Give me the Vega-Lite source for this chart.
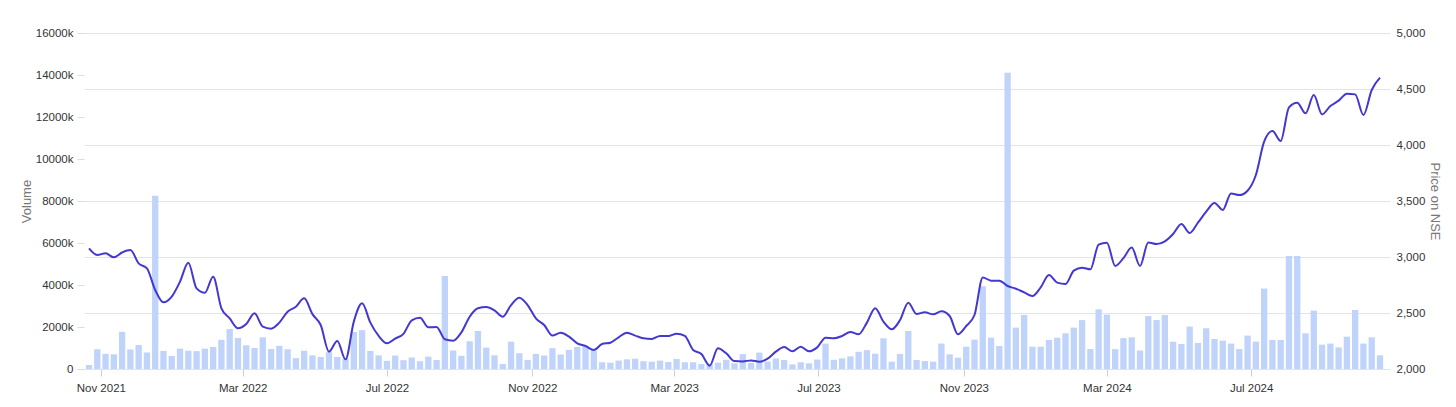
{
  "$schema": "https://vega.github.io/schema/vega-lite/v6.json",
  "width": 1301,
  "height": 336,
  "autosize": {"type": "none"},
  "padding": {"left": 84, "top": 33, "right": 71, "bottom": 38},
  "background": "white",
  "config": {
    "view": {"stroke": null},
    "font": "Liberation Sans",
    "axis": {"labelFont": "Liberation Sans", "titleFont": "Liberation Sans"}
  },
  "data": {
    "values": [
      {"date": "2021-10-22", "volume": 190000, "price": 3077},
      {"date": "2021-10-29", "volume": 940000, "price": 3018},
      {"date": "2021-11-05", "volume": 720000, "price": 3033},
      {"date": "2021-11-12", "volume": 700000, "price": 2997},
      {"date": "2021-11-19", "volume": 1770000, "price": 3040},
      {"date": "2021-11-26", "volume": 930000, "price": 3062},
      {"date": "2021-12-03", "volume": 1140000, "price": 2943},
      {"date": "2021-12-10", "volume": 780000, "price": 2899},
      {"date": "2021-12-17", "volume": 8250000, "price": 2705},
      {"date": "2021-12-24", "volume": 860000, "price": 2595},
      {"date": "2021-12-31", "volume": 620000, "price": 2646},
      {"date": "2022-01-07", "volume": 970000, "price": 2780},
      {"date": "2022-01-14", "volume": 870000, "price": 2949},
      {"date": "2022-01-21", "volume": 850000, "price": 2720},
      {"date": "2022-01-28", "volume": 970000, "price": 2681},
      {"date": "2022-02-04", "volume": 1050000, "price": 2824},
      {"date": "2022-02-11", "volume": 1390000, "price": 2542},
      {"date": "2022-02-18", "volume": 1900000, "price": 2452},
      {"date": "2022-02-25", "volume": 1480000, "price": 2363},
      {"date": "2022-03-04", "volume": 1130000, "price": 2402},
      {"date": "2022-03-11", "volume": 1000000, "price": 2497},
      {"date": "2022-03-18", "volume": 1510000, "price": 2378},
      {"date": "2022-03-25", "volume": 950000, "price": 2360},
      {"date": "2022-04-01", "volume": 1100000, "price": 2414},
      {"date": "2022-04-08", "volume": 940000, "price": 2512},
      {"date": "2022-04-15", "volume": 520000, "price": 2556},
      {"date": "2022-04-22", "volume": 870000, "price": 2631},
      {"date": "2022-04-29", "volume": 650000, "price": 2490},
      {"date": "2022-05-06", "volume": 570000, "price": 2393},
      {"date": "2022-05-13", "volume": 800000, "price": 2155},
      {"date": "2022-05-20", "volume": 570000, "price": 2250},
      {"date": "2022-05-27", "volume": 500000, "price": 2086},
      {"date": "2022-06-03", "volume": 1760000, "price": 2423},
      {"date": "2022-06-10", "volume": 1850000, "price": 2586},
      {"date": "2022-06-17", "volume": 860000, "price": 2414},
      {"date": "2022-06-24", "volume": 650000, "price": 2295},
      {"date": "2022-07-01", "volume": 390000, "price": 2229},
      {"date": "2022-07-08", "volume": 640000, "price": 2272},
      {"date": "2022-07-15", "volume": 420000, "price": 2314},
      {"date": "2022-07-22", "volume": 550000, "price": 2435},
      {"date": "2022-07-29", "volume": 370000, "price": 2458},
      {"date": "2022-08-05", "volume": 590000, "price": 2372},
      {"date": "2022-08-12", "volume": 430000, "price": 2375},
      {"date": "2022-08-19", "volume": 4430000, "price": 2265},
      {"date": "2022-08-26", "volume": 880000, "price": 2253},
      {"date": "2022-09-02", "volume": 630000, "price": 2327},
      {"date": "2022-09-09", "volume": 1320000, "price": 2467},
      {"date": "2022-09-16", "volume": 1810000, "price": 2542},
      {"date": "2022-09-23", "volume": 1020000, "price": 2554},
      {"date": "2022-09-30", "volume": 650000, "price": 2524},
      {"date": "2022-10-07", "volume": 240000, "price": 2467},
      {"date": "2022-10-14", "volume": 1300000, "price": 2571},
      {"date": "2022-10-21", "volume": 750000, "price": 2637},
      {"date": "2022-10-28", "volume": 430000, "price": 2571},
      {"date": "2022-11-04", "volume": 720000, "price": 2452},
      {"date": "2022-11-11", "volume": 640000, "price": 2393},
      {"date": "2022-11-18", "volume": 990000, "price": 2298},
      {"date": "2022-11-25", "volume": 690000, "price": 2324},
      {"date": "2022-12-02", "volume": 910000, "price": 2289},
      {"date": "2022-12-09", "volume": 1050000, "price": 2229},
      {"date": "2022-12-16", "volume": 1100000, "price": 2205},
      {"date": "2022-12-23", "volume": 870000, "price": 2170},
      {"date": "2022-12-30", "volume": 320000, "price": 2223},
      {"date": "2023-01-06", "volume": 300000, "price": 2235},
      {"date": "2023-01-13", "volume": 400000, "price": 2283},
      {"date": "2023-01-20", "volume": 460000, "price": 2324},
      {"date": "2023-01-27", "volume": 490000, "price": 2298},
      {"date": "2023-02-03", "volume": 370000, "price": 2274},
      {"date": "2023-02-10", "volume": 350000, "price": 2268},
      {"date": "2023-02-17", "volume": 400000, "price": 2295},
      {"date": "2023-02-24", "volume": 330000, "price": 2295},
      {"date": "2023-03-03", "volume": 480000, "price": 2315},
      {"date": "2023-03-10", "volume": 320000, "price": 2295},
      {"date": "2023-03-17", "volume": 320000, "price": 2170},
      {"date": "2023-03-24", "volume": 240000, "price": 2134},
      {"date": "2023-03-31", "volume": 250000, "price": 2030},
      {"date": "2023-04-07", "volume": 300000, "price": 2185},
      {"date": "2023-04-14", "volume": 440000, "price": 2140},
      {"date": "2023-04-21", "volume": 270000, "price": 2071},
      {"date": "2023-04-28", "volume": 710000, "price": 2068},
      {"date": "2023-05-05", "volume": 290000, "price": 2077},
      {"date": "2023-05-12", "volume": 780000, "price": 2065},
      {"date": "2023-05-19", "volume": 350000, "price": 2092},
      {"date": "2023-05-26", "volume": 500000, "price": 2155},
      {"date": "2023-06-02", "volume": 430000, "price": 2196},
      {"date": "2023-06-09", "volume": 220000, "price": 2158},
      {"date": "2023-06-16", "volume": 320000, "price": 2199},
      {"date": "2023-06-23", "volume": 270000, "price": 2158},
      {"date": "2023-06-30", "volume": 450000, "price": 2193},
      {"date": "2023-07-07", "volume": 1210000, "price": 2280},
      {"date": "2023-07-14", "volume": 440000, "price": 2274},
      {"date": "2023-07-21", "volume": 510000, "price": 2295},
      {"date": "2023-07-28", "volume": 600000, "price": 2330},
      {"date": "2023-08-04", "volume": 820000, "price": 2310},
      {"date": "2023-08-11", "volume": 900000, "price": 2414},
      {"date": "2023-08-18", "volume": 730000, "price": 2542},
      {"date": "2023-08-25", "volume": 1460000, "price": 2423},
      {"date": "2023-09-01", "volume": 350000, "price": 2354},
      {"date": "2023-09-08", "volume": 720000, "price": 2437},
      {"date": "2023-09-15", "volume": 1810000, "price": 2592},
      {"date": "2023-09-22", "volume": 430000, "price": 2491},
      {"date": "2023-09-29", "volume": 380000, "price": 2506},
      {"date": "2023-10-06", "volume": 350000, "price": 2488},
      {"date": "2023-10-13", "volume": 1210000, "price": 2515},
      {"date": "2023-10-20", "volume": 700000, "price": 2473},
      {"date": "2023-10-27", "volume": 540000, "price": 2310},
      {"date": "2023-11-03", "volume": 1060000, "price": 2384},
      {"date": "2023-11-10", "volume": 1400000, "price": 2482},
      {"date": "2023-11-17", "volume": 3940000, "price": 2818},
      {"date": "2023-11-24", "volume": 1490000, "price": 2789},
      {"date": "2023-12-01", "volume": 1100000, "price": 2789},
      {"date": "2023-12-08", "volume": 14110000, "price": 2741},
      {"date": "2023-12-15", "volume": 1970000, "price": 2717},
      {"date": "2023-12-22", "volume": 2570000, "price": 2684},
      {"date": "2023-12-29", "volume": 1060000, "price": 2652},
      {"date": "2024-01-05", "volume": 1060000, "price": 2729},
      {"date": "2024-01-12", "volume": 1380000, "price": 2839},
      {"date": "2024-01-19", "volume": 1490000, "price": 2771},
      {"date": "2024-01-26", "volume": 1700000, "price": 2759},
      {"date": "2024-02-02", "volume": 1970000, "price": 2878},
      {"date": "2024-02-09", "volume": 2330000, "price": 2905},
      {"date": "2024-02-16", "volume": 950000, "price": 2890},
      {"date": "2024-02-23", "volume": 2840000, "price": 3110},
      {"date": "2024-03-01", "volume": 2590000, "price": 3128},
      {"date": "2024-03-08", "volume": 945000, "price": 2920},
      {"date": "2024-03-15", "volume": 1470000, "price": 2990},
      {"date": "2024-03-22", "volume": 1510000, "price": 3085},
      {"date": "2024-03-29", "volume": 880000, "price": 2920},
      {"date": "2024-04-05", "volume": 2520000, "price": 3130},
      {"date": "2024-04-12", "volume": 2330000, "price": 3115},
      {"date": "2024-04-19", "volume": 2570000, "price": 3140},
      {"date": "2024-04-26", "volume": 1300000, "price": 3205},
      {"date": "2024-05-03", "volume": 1190000, "price": 3295},
      {"date": "2024-05-10", "volume": 2020000, "price": 3214},
      {"date": "2024-05-17", "volume": 1240000, "price": 3306},
      {"date": "2024-05-24", "volume": 1940000, "price": 3405},
      {"date": "2024-05-31", "volume": 1430000, "price": 3482},
      {"date": "2024-06-07", "volume": 1350000, "price": 3420},
      {"date": "2024-06-14", "volume": 1210000, "price": 3568},
      {"date": "2024-06-21", "volume": 950000, "price": 3553},
      {"date": "2024-06-28", "volume": 1590000, "price": 3592},
      {"date": "2024-07-05", "volume": 1300000, "price": 3732},
      {"date": "2024-07-12", "volume": 3830000, "price": 4030},
      {"date": "2024-07-19", "volume": 1380000, "price": 4125},
      {"date": "2024-07-26", "volume": 1380000, "price": 4036},
      {"date": "2024-08-02", "volume": 5380000, "price": 4336},
      {"date": "2024-08-09", "volume": 5380000, "price": 4378},
      {"date": "2024-08-16", "volume": 1700000, "price": 4283},
      {"date": "2024-08-23", "volume": 2780000, "price": 4446},
      {"date": "2024-08-30", "volume": 1160000, "price": 4274},
      {"date": "2024-09-06", "volume": 1210000, "price": 4348},
      {"date": "2024-09-13", "volume": 1030000, "price": 4396},
      {"date": "2024-09-20", "volume": 1540000, "price": 4458},
      {"date": "2024-09-27", "volume": 2810000, "price": 4452},
      {"date": "2024-10-04", "volume": 1210000, "price": 4268},
      {"date": "2024-10-11", "volume": 1510000, "price": 4491},
      {"date": "2024-10-18", "volume": 650000, "price": 4601}
    ]
  },
  "encoding": {
    "x": {
      "field": "date",
      "type": "temporal",
      "scale": {
        "type": "utc",
        "domain": [
          {"year": 2021, "month": "oct", "date": 22, "utc": true},
          {"year": 2024, "month": "oct", "date": 18, "utc": true}
        ]
      },
      "axis": {
        "title": null,
        "grid": false,
        "domain": false,
        "values": [
          {"year": 2021, "month": "nov", "date": 1, "utc": true},
          {"year": 2022, "month": "mar", "date": 1, "utc": true},
          {"year": 2022, "month": "jul", "date": 1, "utc": true},
          {"year": 2022, "month": "nov", "date": 1, "utc": true},
          {"year": 2023, "month": "mar", "date": 1, "utc": true},
          {"year": 2023, "month": "jul", "date": 1, "utc": true},
          {"year": 2023, "month": "nov", "date": 1, "utc": true},
          {"year": 2024, "month": "mar", "date": 1, "utc": true},
          {"year": 2024, "month": "jul", "date": 1, "utc": true}
        ],
        "labelExpr": "utcFormat(datum.value, '%b %Y')",
        "tickColor": "#d0d0d0",
        "tickSize": 7,
        "labelPadding": 6,
        "labelColor": "#333333",
        "labelFontSize": 11.5,
        "labelFlush": false,
        "labelOverlap": false
      }
    }
  },
  "layer": [
    {
      "mark": {"type": "bar", "width": 6.3, "color": "#bfd3fb", "clip": true},
      "encoding": {
        "y": {
          "field": "volume",
          "type": "quantitative",
          "scale": {"domain": [0, 16000000], "nice": false},
          "axis": {
            "orient": "left",
            "title": "Volume",
            "grid": false,
            "domain": false,
            "values": [0, 2000000, 4000000, 6000000, 8000000, 10000000, 12000000, 14000000, 16000000],
            "labelExpr": "datum.value == 0 ? '0' : (datum.value / 1000) + 'k'",
            "tickColor": "#dddddd",
            "tickSize": 7,
            "labelPadding": 4,
            "labelColor": "#333333",
            "labelFontSize": 11.5,
            "titleColor": "#777777",
            "titleFontSize": 13,
            "titleFontWeight": "normal",
            "titlePadding": 2
          }
        }
      }
    },
    {
      "mark": {"type": "line", "interpolate": "monotone", "color": "#4338d0", "strokeWidth": 2, "clip": true},
      "encoding": {
        "y": {
          "field": "price",
          "type": "quantitative",
          "scale": {"domain": [2000, 5000], "nice": false, "zero": false},
          "axis": {
            "orient": "right",
            "title": "Price on NSE",
            "grid": true,
            "gridColor": "#e4e4e4",
            "domain": false,
            "values": [2000, 2500, 3000, 3500, 4000, 4500, 5000],
            "labelExpr": "format(datum.value, ',')",
            "tickColor": "#e4e4e4",
            "tickSize": 5,
            "labelPadding": 6,
            "labelColor": "#333333",
            "labelFontSize": 11.5,
            "titleColor": "#777777",
            "titleFontSize": 13,
            "titleFontWeight": "normal",
            "titlePadding": 3
          }
        }
      }
    }
  ],
  "resolve": {"scale": {"y": "independent"}}
}
